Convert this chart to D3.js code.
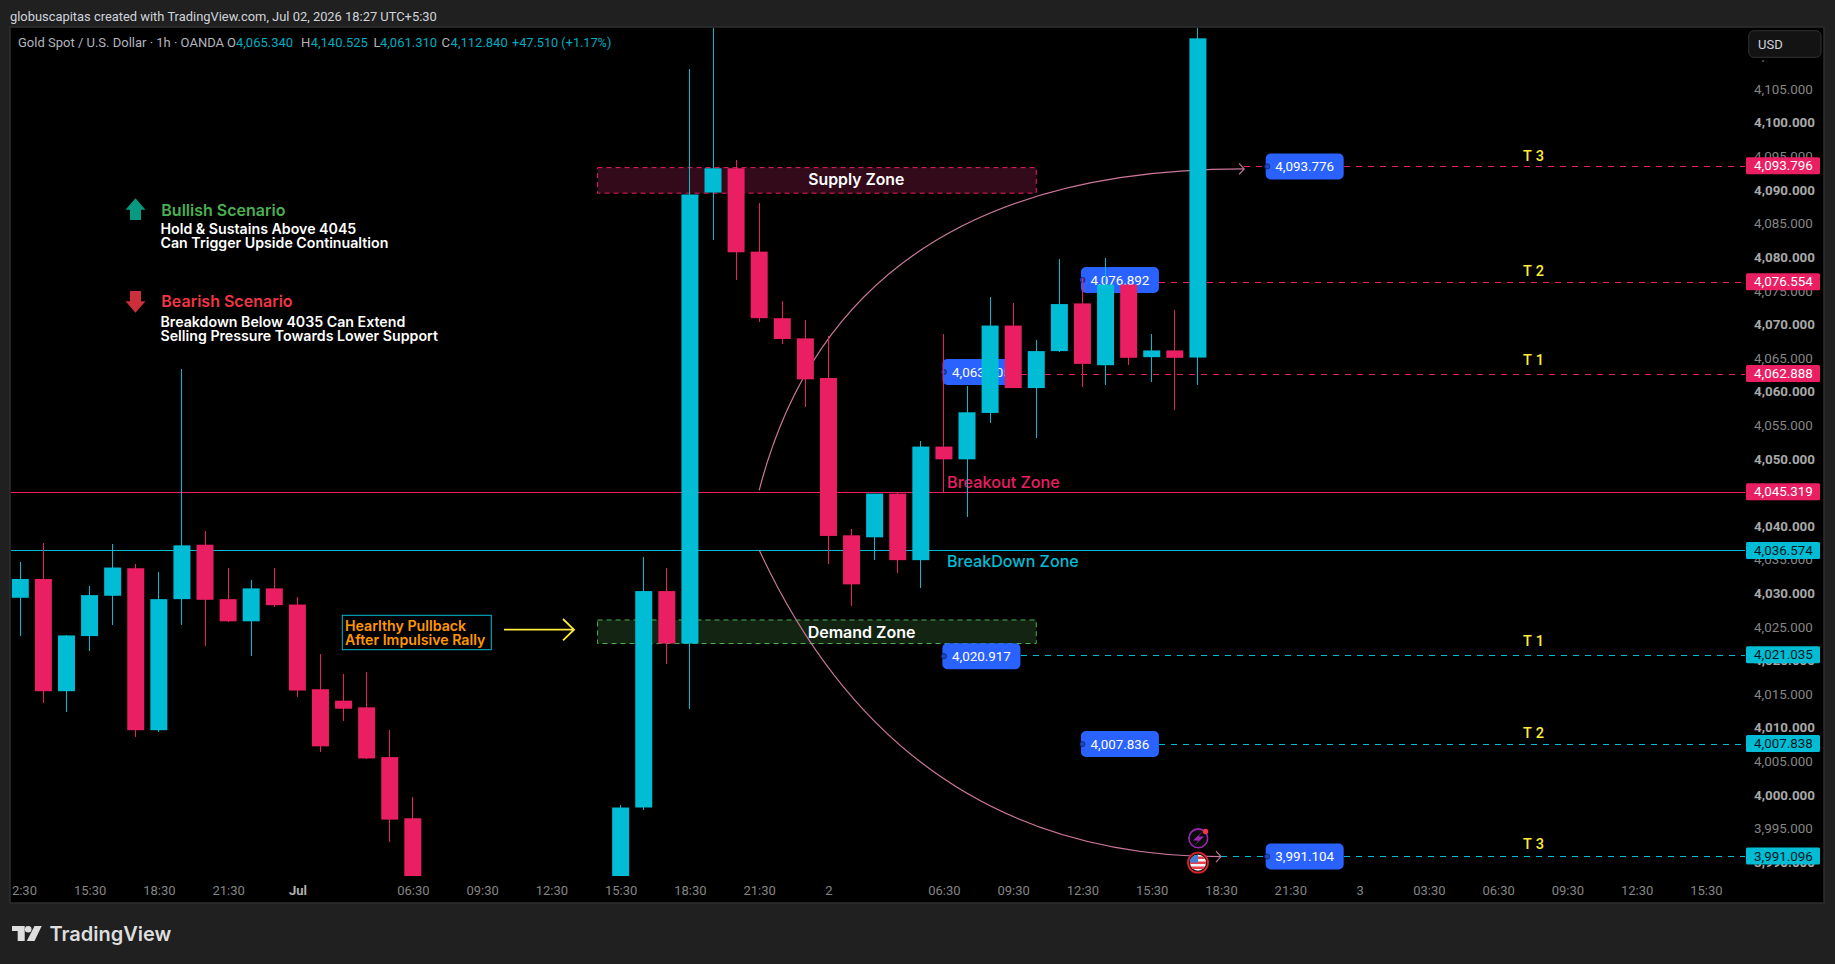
<!DOCTYPE html>
<html>
<head>
<meta charset="utf-8">
<script src="https://cdnjs.cloudflare.com/ajax/libs/d3/7.8.5/d3.min.js"></script>
<style>
  html, body { margin: 0; padding: 0; background: #202020; overflow: hidden; }
  svg { display: block; }
  text { font-family: Roboto, "Noto Sans", sans-serif; }
  .inter { font-family: Inter, Roboto, sans-serif; }
  .axis path, .axis line { display: none; }
</style>
</head>
<body>
<script>
// hourly candles. index = bar number on the time axis
const barIndex = [0,1,2,3,4,5,6,7,8,9,10,11,12,13,14,15,16,17,
  26,27,28,29,30,31,32,33,34,35,36,37,38,39,40,41,42,43,44,45,46,47,48,49,50,51];
const opens = [4029.6,4032.4,4015.7,4023.9,4029.9,4034.0,4009.9,4029.4,4037.5,4029.4,4026.1,4031.0,4028.6,4016.0,4014.3,4013.3,4005.9,3996.8,
  3985.0,3998.4,4030.6,4022.8,4089.9,4093.5,4081.1,4071.2,4068.2,4062.3,4038.9,4038.6,4045.1,4035.2,4052.1,4050.2,4057.1,4070.1,4060.8,4066.3,4073.4,4064.2,4076.2,4065.4,4066.4,4065.34];
const highs = [4034.9,4037.7,4024.0,4031.4,4037.6,4034.6,4033.5,4063.6,4039.6,4034.1,4032.3,4034.0,4029.7,4021.3,4018.2,4018.5,4010.0,3999.9,
  3998.8,4035.6,4034.1,4108.2,4120.0,4094.7,4088.4,4073.7,4070.9,4068.5,4039.9,4045.1,4045.4,4052.9,4068.8,4061.1,4074.3,4073.4,4067.9,4080.0,4077.2,4080.1,4076.2,4068.8,4072.4,4140.525];
const lows = [4023.9,4013.9,4012.6,4021.7,4025.5,4008.9,4009.6,4025.5,4022.4,4026.0,4020.9,4028.3,4014.8,4006.6,4011.2,4005.6,3993.2,3985.0,
  3985.0,3998.0,4019.7,4013.0,4082.9,4076.9,4070.6,4067.4,4058.0,4034.6,4028.4,4035.2,4033.3,4031.0,4045.4,4041.6,4055.6,4060.8,4053.4,4066.2,4061.0,4061.2,4064.2,4061.7,4057.5,4061.31];
const closes = [4032.4,4015.7,4024.0,4030.0,4034.1,4009.9,4029.4,4037.4,4029.3,4026.1,4031.0,4028.5,4015.8,4007.5,4013.1,4005.7,3996.6,3986.0,
  3998.4,4030.6,4022.8,4089.6,4093.5,4081.0,4071.2,4068.1,4062.1,4038.8,4031.6,4045.1,4035.2,4052.1,4050.2,4057.2,4070.1,4060.8,4066.3,4073.3,4064.4,4076.2,4065.3,4066.4,4065.3,4112.84];

const priceTicks = d3.range(3990, 4115, 5);
const timeTickIndex = [0,3,6,9,12,17,20,23,26,29,32,35,40,43,46,49,52,55,58,61,64,67,70,73];
const timeTickLabels = ["12:30","15:30","18:30","21:30","Jul","06:30","09:30","12:30","15:30","18:30","21:30","2","06:30","09:30","12:30","15:30","18:30","21:30","3","03:30","06:30","09:30","12:30","15:30"];

// key levels
const resistanceTags = [4093.796, 4076.554, 4062.888, 4045.319];
const supportTags = [4036.574, 4021.035, 4007.838, 3991.096];
const noteBars = [54, 46, 40, 40, 46, 54];
const noteValues = [4093.776, 4076.892, 4063.205, 4020.917, 4007.836, 3991.104];
const noteLevels = [4093.796, 4076.554, 4062.888, 4021.035, 4007.838, 3991.096];
const targetNames = ["T 3", "T 2", "T 1", "T 1", "T 2", "T 3"];
const targetNamePrices = [4095.3, 4078.2, 4065.0, 4023.2, 4009.5, 3993.0];
const supplyZone = { bars: [25, 44], prices: [4093.6, 4089.8] };
const demandZone = { bars: [25, 44], prices: [4026.3, 4022.8] };
const upperCurve = [[32, 4045.6], [35.6, 4093.4], [53, 4093.4]];
const lowerCurve = [[32, 4036.7], [38.15, 3991.1], [52, 3991.1]];

const width = 1835, height = 964;
const paneLeft = 10, paneTop = 27, paneRight = 1824, paneBottom = 903, candleBottom = 876, axisLeft = 1745;
const UP = "#00bcd4", DOWN = "#e91e63", NOTE = "#2962ff", YELLOW = "#ffeb3b";

const x = d3.scaleLinear().domain([0, 73]).range([20.3, 1705.9]);
const y = d3.scaleLinear().domain([3991.096, 4093.796]).range([856.6, 166.3]);
const bodyW = 17;

const svg = d3.select("body").append("svg").attr("width", width).attr("height", height);

svg.append("rect").attr("width", width).attr("height", height).attr("fill", "#202020");
svg.append("rect")
  .attr("x", paneLeft).attr("y", paneTop)
  .attr("width", paneRight - paneLeft).attr("height", paneBottom - paneTop)
  .attr("fill", "#000").attr("stroke", "#2e2e2e").attr("stroke-width", 1.5);

const defs = svg.append("defs");
defs.append("clipPath").attr("id", "pane").append("rect")
  .attr("x", paneLeft + 1).attr("y", paneTop + 1)
  .attr("width", axisLeft - paneLeft).attr("height", candleBottom - paneTop - 1);
defs.append("clipPath").attr("id", "timeclip").append("rect")
  .attr("x", paneLeft + 1).attr("y", candleBottom)
  .attr("width", paneRight - paneLeft).attr("height", paneBottom - candleBottom);

// header
svg.append("text").attr("x", 10).attr("y", 20.5)
  .attr("fill", "#d1d4dc").attr("font-size", 12.9)
  .text("globuscapitas created with TradingView.com, Jul 02, 2026 18:27 UTC+5:30");

// price axis first, the tags and the USD box sit over it
const priceAxis = svg.append("g").attr("class", "axis")
  .attr("transform", `translate(1754,0)`)
  .call(d3.axisRight(y).tickValues(priceTicks).tickSize(0).tickPadding(0).tickFormat(d3.format(",.3f")));
priceAxis.selectAll("text")
  .attr("dy", "0.35em").attr("y", -2.3)
  .attr("font-size", 13.4)
  .attr("fill", d => d % 10 === 0 ? "#a8a8a8" : "#858585")
  .attr("font-weight", d => d % 10 === 0 ? 700 : 400);
// top of the 4,110 tick is hidden by the USD box, only its comma shows
svg.append("rect").attr("x", 1747).attr("y", 28).attr("width", 76).attr("height", 32.5).attr("fill", "#000");

const pane = svg.append("g").attr("clip-path", "url(#pane)");

// zones
function zone(z, fill, stroke) {
  pane.append("rect")
    .attr("x", x(z.bars[0])).attr("y", y(z.prices[0]))
    .attr("width", x(z.bars[1]) - x(z.bars[0])).attr("height", y(z.prices[1]) - y(z.prices[0]))
    .attr("fill", fill).attr("stroke", stroke).attr("stroke-dasharray", "5,4");
}
zone(supplyZone, "#330a1a", DOWN);
zone(demandZone, "#132413", "#4caf50");

// the two key horizontals
[[resistanceTags[3], DOWN], [supportTags[0], UP]].forEach(([p, c]) => {
  pane.append("line").attr("x1", paneLeft).attr("x2", axisLeft)
    .attr("y1", y(p)).attr("y2", y(p)).attr("stroke", c).attr("shape-rendering", "crispEdges");
});

// dashed target lines
noteLevels.forEach((lvl, i) => {
  const col = i < 3 ? DOWN : UP;
  const start = x(noteBars[i]) + 77;
  pane.append("line").attr("x1", start).attr("x2", axisLeft)
    .attr("y1", y(lvl)).attr("y2", y(lvl))
    .attr("stroke", col).attr("stroke-dasharray", "6,6").attr("shape-rendering", "crispEdges");
  pane.append("text").attr("x", 1533.7).attr("y", y(targetNamePrices[i])).attr("dy", "0.35em")
    .attr("text-anchor", "middle").attr("fill", YELLOW)
    .attr("font-size", 14.5).attr("font-weight", 500).attr("letter-spacing", 0.4)
    .text(targetNames[i]);
});

// curves with open arrow heads
const curveCol = "#c9769a";
[upperCurve, lowerCurve].forEach(c => {
  const p = d3.path();
  p.moveTo(x(c[0][0]), y(c[0][1]));
  p.quadraticCurveTo(x(c[1][0]), y(c[1][1]), x(c[2][0]), y(c[2][1]));
  pane.append("path").attr("d", p.toString()).attr("fill", "none").attr("stroke", curveCol).attr("stroke-width", 1.2);
  const tx = x(c[2][0]), ty = y(c[2][1]);
  pane.append("path").attr("d", `M${tx - 5},${ty - 5.5}L${tx},${ty}L${tx - 5},${ty + 5.5}`)
    .attr("fill", "none").attr("stroke", curveCol).attr("stroke-width", 1.2);
});
// short dashes between arrow tip and note
[[53, 54, noteLevels[0], DOWN], [52, 54, noteLevels[5], UP]].forEach(d => {
  pane.append("line").attr("x1", x(d[0])).attr("x2", x(d[1])).attr("y1", y(d[2])).attr("y2", y(d[2]))
    .attr("stroke", d[3]).attr("stroke-dasharray", "6,6").attr("shape-rendering", "crispEdges");
});

// blue price notes
noteValues.forEach((v, i) => {
  const g = pane.append("g").attr("transform", `translate(${x(noteBars[i])},${y(v)})`);
  g.append("rect").attr("x", -1.5).attr("y", -13).attr("width", 78).attr("height", 26).attr("rx", 5).attr("fill", NOTE);
  g.append("circle").attr("r", 2.6).attr("fill", "#1d45c4").attr("stroke", "#0a1a4a").attr("stroke-width", 0.6);
  g.append("text").attr("x", 37.5).attr("dy", "0.35em").attr("text-anchor", "middle")
    .attr("fill", "#fff").attr("font-size", 13.4).text(d3.format(",.3f")(v));
});

// zone captions
function caption(txt, cx, cy, size, col, anchor, weight) {
  return pane.append("text").attr("class", "inter").attr("x", cx).attr("y", cy).attr("dy", "0.35em")
    .attr("text-anchor", anchor || "middle").attr("fill", col)
    .attr("font-size", size).attr("font-weight", weight || 500).text(txt);
}
caption("Supply Zone", 856.3, 179.3, 15.8, "#fff", "middle", 600);
caption("Demand Zone", 861.6, 632.3, 16, "#fff", "middle", 600);
caption("Breakout Zone", 947, 482, 16.2, DOWN, "start");
caption("BreakDown Zone", 947, 561, 16.1, UP, "start");

// candles
const candleData = barIndex.map((b, i) => ({ b, o: opens[i], h: highs[i], l: lows[i], c: closes[i] }));
const candles = pane.append("g").selectAll("g").data(candleData).join("g")
  .attr("fill", d => d.c >= d.o ? UP : DOWN)
  .attr("stroke", d => d.c >= d.o ? UP : DOWN);
candles.append("line")
  .attr("x1", d => x(d.b)).attr("x2", d => x(d.b))
  .attr("y1", d => y(d.h)).attr("y2", d => y(d.l))
  .attr("shape-rendering", "crispEdges");
candles.append("rect")
  .attr("x", d => x(d.b) - bodyW / 2).attr("width", bodyW)
  .attr("y", d => y(Math.max(d.o, d.c)))
  .attr("height", d => Math.abs(y(d.o) - y(d.c)))
  .attr("stroke", "none");

// scenario notes
const notes = svg.append("g");
function arrowIcon(cx, top, h, col, down) {
  const pts = [[0, 0], [10, 11.5], [5.5, 11.5], [5.5, h], [-5.5, h], [-5.5, 11.5], [-10, 11.5]];
  notes.append("polygon")
    .attr("points", pts.map(p => [cx + p[0], down ? top + h - p[1] : top + p[1]].join(",")).join(" "))
    .attr("fill", col);
}
arrowIcon(135.5, 198.3, 21.7, "#089981", false);
arrowIcon(135.5, 291, 21.7, "#cc2f3c", true);
function noteText(txt, tx, cy, size, col, weight) {
  notes.append("text").attr("class", "inter").attr("x", tx).attr("y", cy).attr("dy", "0.35em")
    .attr("fill", col).attr("font-size", size).attr("font-weight", weight).text(txt);
}
noteText("Bullish Scenario", 161.3, 210, 16, "#4caf50", 600);
noteText("Hold & Sustains Above 4045", 160.5, 229, 14.2, "#fff", 600);
noteText("Can Trigger Upside Continualtion", 160.5, 243.3, 14.2, "#fff", 600);
noteText("Bearish Scenario", 161.3, 301.3, 16, "#f23645", 600);
noteText("Breakdown Below 4035 Can Extend", 160.5, 322, 14.2, "#fff", 600);
noteText("Selling Pressure Towards Lower Support", 160.5, 336, 14.2, "#fff", 600);

// pullback callout
notes.append("rect").attr("x", 342.3).attr("y", 615.3).attr("width", 149).attr("height", 34.4)
  .attr("fill", "#000").attr("stroke", UP);
noteText("Hearlthy Pullback", 345, 626, 14.2, "#ff9800", 600);
noteText("After Impulsive Rally", 345, 640.3, 14.2, "#ff9800", 600);
notes.append("path").attr("d", "M504,629.7H574M563,619L574,629.7L563,640.4")
  .attr("fill", "none").attr("stroke", YELLOW).attr("stroke-width", 1.8);

// legend line
const legend = svg.append("g").attr("font-size", 13);
const legendBits = [
  [18, "Gold Spot / U.S. Dollar · 1h · OANDA", "#b2b5be"],
  [227, "O", "#b2b5be"], [236, "4,065.340", "#00acc1"],
  [301, "H", "#b2b5be"], [310.7, "4,140.525", "#00acc1"],
  [373.5, "L", "#b2b5be"], [380, "4,061.310", "#00acc1"],
  [441.5, "C", "#b2b5be"], [450.6, "4,112.840", "#00acc1"],
  [512, "+47.510 (+1.17%)", "#00acc1"]
];
legendBits.forEach(b => legend.append("text").attr("x", b[0]).attr("y", 47.3).attr("fill", b[2])
  .attr("font-size", b[1][0] === "+" ? 12.7 : 13).text(b[1]));

// event badges
const ev = svg.append("g");
ev.append("circle").attr("cx", 1198.3).attr("cy", 838.3).attr("r", 9.4)
  .attr("fill", "#0b0b0b").attr("stroke", "#9c27b0").attr("stroke-width", 1.6);
ev.append("path").attr("d", "M1202.5,831.5L1193,840.5H1198.5L1194.5,845.5L1204,836.5H1198.5Z").attr("fill", "#9c27b0");
ev.append("circle").attr("cx", 1205.5).attr("cy", 831.5).attr("r", 2.7).attr("fill", "#f23645");
defs.append("clipPath").attr("id", "flag").append("circle").attr("cx", 1198).attr("cy", 862.7).attr("r", 8);
ev.append("circle").attr("cx", 1198).attr("cy", 862.7).attr("r", 10)
  .attr("fill", "#111").attr("stroke", "#d9242f").attr("stroke-width", 1.8);
const flag = ev.append("g").attr("clip-path", "url(#flag)");
flag.append("rect").attr("x", 1189).attr("y", 854).attr("width", 18).attr("height", 18).attr("fill", "#f5f5f5");
[856.5, 861.5, 866.5].forEach(s => flag.append("rect").attr("x", 1189).attr("y", s).attr("width", 18).attr("height", 2.5).attr("fill", "#e8404a"));
flag.append("rect").attr("x", 1189).attr("y", 854).attr("width", 9).attr("height", 8.5).attr("fill", "#3f7fd6");

// price tags on the axis
function tag(p, bg, fg) {
  const g = svg.append("g").attr("transform", `translate(1746,${y(p)})`);
  g.append("rect").attr("y", -9).attr("width", 74).attr("height", 17).attr("rx", 1.5).attr("fill", bg);
  g.append("text").attr("x", 8).attr("y", -0.6).attr("dy", "0.35em")
    .attr("font-size", 13.4).attr("fill", fg).text(d3.format(",.3f")(p));
}
resistanceTags.forEach(p => tag(p, DOWN, "#fff"));
supportTags.forEach(p => tag(p, UP, "#04181c"));

// USD box
svg.append("rect").attr("x", 1748.8).attr("y", 30.7).attr("width", 72.2).attr("height", 26.6).attr("rx", 5)
  .attr("fill", "#131313").attr("stroke", "#333");
svg.append("text").attr("x", 1758).attr("y", 48.5).attr("fill", "#d1d4dc").attr("font-size", 13).text("USD");

// time axis
const timeAxis = svg.append("g").attr("class", "axis").attr("clip-path", "url(#timeclip)")
  .append("g").attr("transform", `translate(0,${candleBottom})`)
  .call(d3.axisBottom(x).tickValues(timeTickIndex).tickSize(0).tickPadding(0)
    .tickFormat((d, i) => timeTickLabels[i]));
timeAxis.selectAll("text")
  .attr("y", 14.7).attr("dy", "0.35em")
  .attr("font-size", 13)
  .attr("fill", (d, i) => timeTickLabels[i] === "Jul" ? "#b0b0b0" : "#858585")
  .attr("font-weight", (d, i) => timeTickLabels[i] === "Jul" ? 700 : 400);

// TradingView mark
const logo = svg.append("g").attr("fill", "#dedede");
logo.append("path").attr("d", "M12,926H24.7V941H17.7V931H12Z");
logo.append("circle").attr("cx", 28.2).attr("cy", 929.2).attr("r", 3.3);
logo.append("path").attr("d", "M34.5,926H41.7L34.5,941H26.8Z");
logo.append("text").attr("class", "inter").attr("x", 49.5).attr("y", 941)
  .attr("font-size", 20).attr("font-weight", 600).text("TradingView");
</script>
</body>
</html>
